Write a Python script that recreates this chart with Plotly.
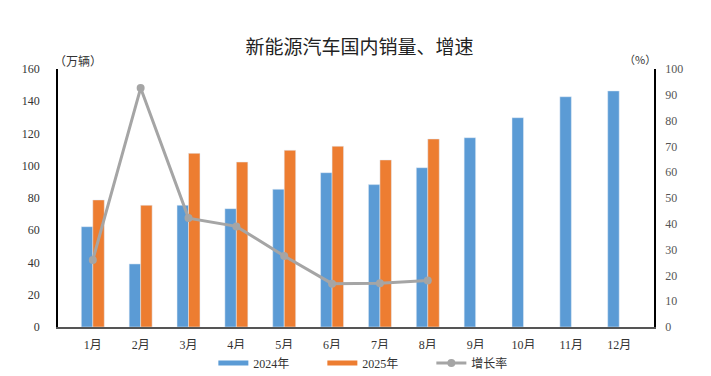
import plotly.graph_objects as go

months = ["1月", "2月", "3月", "4月", "5月", "6月", "7月", "8月", "9月", "10月", "11月", "12月"]
sales_2024 = [62.2, 39.1, 75.5, 73.4, 85.4, 95.7, 88.3, 98.8, 117.4, 129.8, 142.8, 146.4]
sales_2025 = [78.8, 75.5, 107.7, 102.3, 109.6, 112.1, 103.6, 116.6, None, None, None, None]
growth = [26.0, 92.6, 42.2, 39.0, 27.5, 16.8, 17.0, 18.0, None, None, None, None]
left_ticks = [0, 20, 40, 60, 80, 100, 120, 140, 160]
right_ticks = [0, 10, 20, 30, 40, 50, 60, 70, 80, 90, 100]

BLUE, ORANGE, GRAY = "#5B9BD5", "#ED7D31", "#A5A5A5"
serif = "Liberation Serif, Noto Sans CJK SC"
cjk = "Noto Sans CJK SC"

# page has an 8px body margin; figure is sized/offset to compensate
W, H = 703, 368

fig = go.Figure()
fig.add_trace(go.Bar(x=months, y=sales_2024, name="2024年", marker=dict(color=BLUE), offsetgroup="a",
                     showlegend=False))
fig.add_trace(go.Bar(x=months, y=sales_2025, name="2025年", marker=dict(color=ORANGE), offsetgroup="b",
                     showlegend=False))
# legend entries (flat rectangles like the reference)
fig.add_trace(go.Scatter(x=[None], y=[None], name="2024年", mode="lines", line=dict(color=BLUE, width=5)))
fig.add_trace(go.Scatter(x=[None], y=[None], name="2025年", mode="lines", line=dict(color=ORANGE, width=5)))
fig.add_trace(go.Scatter(x=months, y=growth, name="增长率", yaxis="y2", mode="lines+markers",
                         line=dict(color=GRAY, width=3), marker=dict(color=GRAY, size=8)))

fig.update_layout(
    width=W, height=H,
    margin=dict(l=50, r=57, t=61, b=49),
    paper_bgcolor="white", plot_bgcolor="white",
    barmode="group", bargap=0.52, bargroupgap=0,
    title=dict(text="新能源汽车国内销量、增速", x=0.5, xanchor="center", y=1 - 39 / H, yanchor="middle",
               yref="container", font=dict(family=cjk, size=19, color="#222")),
    font=dict(family=serif, size=12, color="#333"),
    xaxis=dict(showline=True, linecolor="#555", linewidth=1.5, ticks="", showgrid=False, automargin=False,
               ticklabelstandoff=6, tickfont=dict(family=serif, size=12, color="#333")),
    yaxis=dict(range=[0, 160], tickvals=left_ticks, showline=True, linecolor="#000", linewidth=1.5,
               showgrid=False, zeroline=False, ticks="", ticklabelstandoff=14, automargin=False,
               tickfont=dict(family=serif, size=12, color="#333")),
    yaxis2=dict(range=[0, 100], tickvals=right_ticks, overlaying="y", side="right", showline=True,
                linecolor="#000", linewidth=1.5, showgrid=False, zeroline=False, ticks="", automargin=False,
                ticklabelstandoff=7, tickfont=dict(family=serif, size=12, color="#555")),
    legend=dict(orientation="h", x=0.535, xanchor="center", y=1 - 355 / H, yanchor="middle", yref="container",
                font=dict(family=serif, size=12, color="#333"), traceorder="normal",
                entrywidth=64, entrywidthmode="pixels"),
    showlegend=True,
)
fig.add_annotation(text="（万辆）", xref="paper", yref="paper", x=0, y=1, xanchor="left", yanchor="bottom",
                   showarrow=False, font=dict(family=cjk, size=12, color="#333"), yshift=-2, xshift=-6)
fig.add_annotation(text="（%）", xref="paper", yref="paper", x=1, y=1, xanchor="right", yanchor="bottom",
                   showarrow=False, font=dict(family=cjk, size=11, color="#333"), yshift=0, xshift=4)

fig.write_html("out.html")
